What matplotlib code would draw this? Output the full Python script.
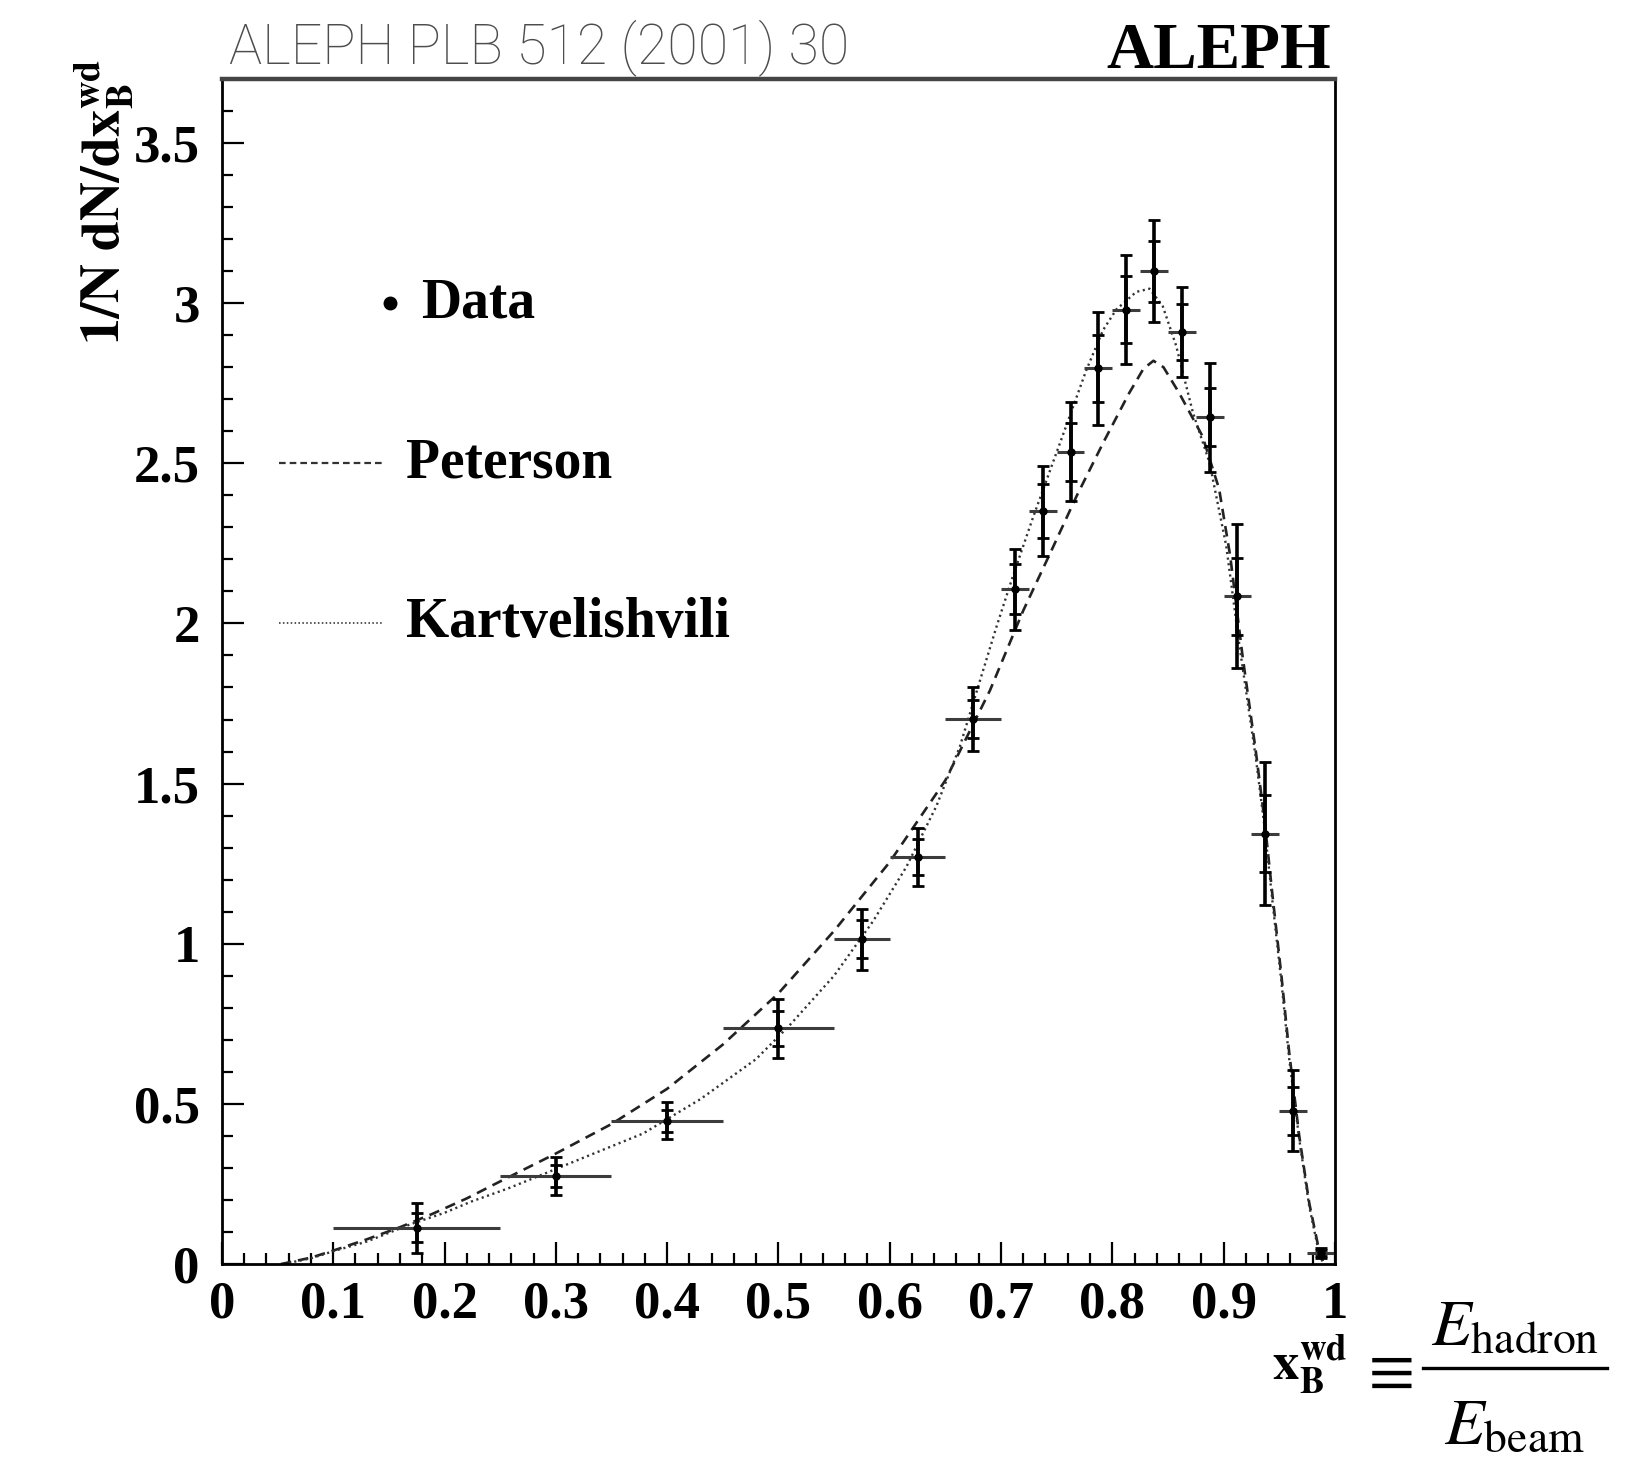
import numpy as np
import matplotlib
matplotlib.use("Agg")
import matplotlib.pyplot as plt
from matplotlib.lines import Line2D
from matplotlib.ticker import MultipleLocator, FormatStrFormatter

plt.rcParams['font.family'] = ['Liberation Serif', 'DejaVu Serif']
plt.rcParams['mathtext.fontset'] = 'stix'

# weakly-decaying B fragmentation, ALEPH
bin_edges = [0.10, 0.25, 0.35, 0.45, 0.55, 0.60, 0.65, 0.70, 0.725, 0.75,
             0.775, 0.80, 0.825, 0.85, 0.875, 0.90, 0.925, 0.95, 0.975, 1.00]
data_y = [0.113, 0.275, 0.447, 0.736, 1.014, 1.271, 1.702, 2.106, 2.351, 2.536,
          2.796, 2.980, 3.100, 2.909, 2.644, 2.085, 1.343, 0.479, 0.035]
err_tot = [0.077, 0.060, 0.058, 0.092, 0.095, 0.090, 0.100, 0.125, 0.142, 0.155,
           0.175, 0.170, 0.160, 0.140, 0.170, 0.225, 0.223, 0.127, 0.015]
err_stat = [0.045, 0.035, 0.035, 0.055, 0.060, 0.055, 0.060, 0.078, 0.085, 0.090,
            0.105, 0.105, 0.095, 0.088, 0.090, 0.120, 0.120, 0.075, 0.010]

# Peterson fit
pet_x = [0.053, 0.080, 0.100, 0.130, 0.160, 0.190, 0.220, 0.250, 0.300, 0.350,
         0.400, 0.450, 0.500, 0.550, 0.600, 0.650, 0.690, 0.720, 0.745, 0.768,
         0.792, 0.815, 0.828, 0.837, 0.846, 0.860, 0.881, 0.896, 0.906, 0.917,
         0.929, 0.937, 0.944, 0.952, 0.959, 0.968, 0.977, 0.986, 0.990]
pet_y = [0.000, 0.020, 0.042, 0.077, 0.115, 0.158, 0.205, 0.258, 0.345, 0.437,
         0.547, 0.685, 0.845, 1.040, 1.255, 1.510, 1.790, 2.040, 2.225, 2.398,
         2.565, 2.718, 2.795, 2.820, 2.800, 2.720, 2.585, 2.420, 2.210, 1.900,
         1.600, 1.380, 1.150, 0.900, 0.660, 0.400, 0.190, 0.040, 0.000]

# Kartvelishvili fit
kar_x = [0.055, 0.080, 0.100, 0.130, 0.170, 0.200, 0.224, 0.257, 0.2756, 0.327,
         0.3787, 0.430, 0.480, 0.510, 0.550, 0.585, 0.615, 0.642, 0.663, 0.681,
         0.696, 0.710, 0.7287, 0.7527, 0.7766, 0.7916, 0.8036, 0.8215, 0.8335, 0.8454,
         0.8574, 0.8724, 0.8874, 0.9024, 0.9143, 0.929, 0.937, 0.944, 0.952, 0.959,
         0.968, 0.977, 0.986, 0.990]
kar_y = [0.000, 0.018, 0.040, 0.070, 0.125, 0.160, 0.195, 0.236, 0.262, 0.335,
         0.408, 0.515, 0.640, 0.745, 0.900, 1.070, 1.240, 1.430, 1.615, 1.820,
         1.990, 2.140, 2.330, 2.560, 2.790, 2.915, 2.980, 3.035, 3.045, 2.990,
         2.867, 2.659, 2.502, 2.242, 1.930, 1.580, 1.360, 1.130, 0.880, 0.640,
         0.390, 0.180, 0.030, 0.000]

edges = np.array(bin_edges)
xc = 0.5 * (edges[:-1] + edges[1:])
xw = 0.5 * (edges[1:] - edges[:-1])

fig = plt.figure(figsize=(16.5, 14.61), dpi=100)
ax = fig.add_axes([0.1345, 0.1348, 0.6745, 0.8112])

ax.plot(pet_x, pet_y, color='#222222', lw=1.9, ls=(0, (4, 2.6)))
ax.plot(kar_x, kar_y, color='#333333', lw=1.7, ls=(0, (0.9, 1.5)))

ax.errorbar(xc, data_y, xerr=xw, fmt='none', ecolor='#3c3c3c', elinewidth=2.2)
ax.errorbar(xc, data_y, yerr=err_tot, fmt='none', ecolor='black',
            elinewidth=2.6, capsize=4, capthick=2)
ax.errorbar(xc, data_y, yerr=err_stat, fmt='o', color='black', ms=5,
            ecolor='black', elinewidth=2.6, capsize=4, capthick=2)

ax.set_xlim(0, 1)
ax.set_ylim(0, 3.7)
ax.xaxis.set_major_locator(MultipleLocator(0.1))
ax.xaxis.set_minor_locator(MultipleLocator(0.02))
ax.yaxis.set_major_locator(MultipleLocator(0.5))
ax.yaxis.set_minor_locator(MultipleLocator(0.1))
ax.xaxis.set_major_formatter(FormatStrFormatter('%g'))
ax.yaxis.set_major_formatter(FormatStrFormatter('%g'))
ax.tick_params(which='both', direction='in', top=False, right=False, width=1.6)
ax.tick_params(which='major', length=16)
ax.tick_params(which='minor', length=8)
ax.tick_params(axis='x', pad=12)
ax.tick_params(axis='y', pad=16)
for lab in ax.get_xticklabels() + ax.get_yticklabels():
    lab.set_fontsize(38)
    lab.set_fontweight('bold')
for side in ax.spines.values():
    side.set_linewidth(2.0)
ax.spines['top'].set_color('#444444')
ax.spines['top'].set_linewidth(3.2)

# legend drawn by hand inside the frame
ax.plot([0.151], [3.0], 'o', color='black', ms=9)
ax.text(0.179, 3.0, 'Data', fontsize=40, fontweight='bold', va='center')
ax.plot([0.051, 0.146], [2.5, 2.5], color='#333333', lw=1.6, ls=(0, (3, 1.8)))
ax.text(0.165, 2.5, 'Peterson', fontsize=40, fontweight='bold', va='center')
ax.plot([0.051, 0.146], [2.0, 2.0], color='#555555', lw=1.4, ls=(0, (0.8, 1.2)))
ax.text(0.165, 2.0, 'Kartvelishvili', fontsize=40, fontweight='bold', va='center')

fig.text(0.063, 0.862, r'$\mathbf{1/N\ dN/dx}_{\mathbf{B}}^{\mathbf{wd}}$',
         rotation=90, fontsize=39, ha='center', va='center')

# x-axis label: x_B^wd = E_hadron / E_beam
fig.text(0.794, 0.066, r'$\mathbf{x}_{\mathbf{B}}^{\mathbf{wd}}$',
         fontsize=38, ha='center', va='center')
fig.text(0.840, 0.061, r'$\equiv$', fontsize=48, ha='center', va='center')
fig.add_artist(Line2D([0.8624, 0.974], [0.0637, 0.0637], transform=fig.transFigure,
                      color='black', lw=2.4))
fig.text(0.918, 0.0695, r'$E_{\mathrm{hadron}}$', fontsize=47,
         ha='center', va='bottom')
fig.text(0.918, 0.0425, r'$E_{\mathrm{beam}}$', fontsize=47,
         ha='center', va='top')

fig.text(0.139, 0.957, 'ALEPH PLB 512 (2001) 30', fontsize=40,
         family=['Roboto', 'Lato', 'DejaVu Sans'], fontweight='light',
         color='#4d4d4d', va='baseline')
fig.text(0.807, 0.9535, 'ALEPH', fontsize=47, fontweight='bold',
         ha='right', va='baseline')

fig.savefig('out.png', dpi=100)
